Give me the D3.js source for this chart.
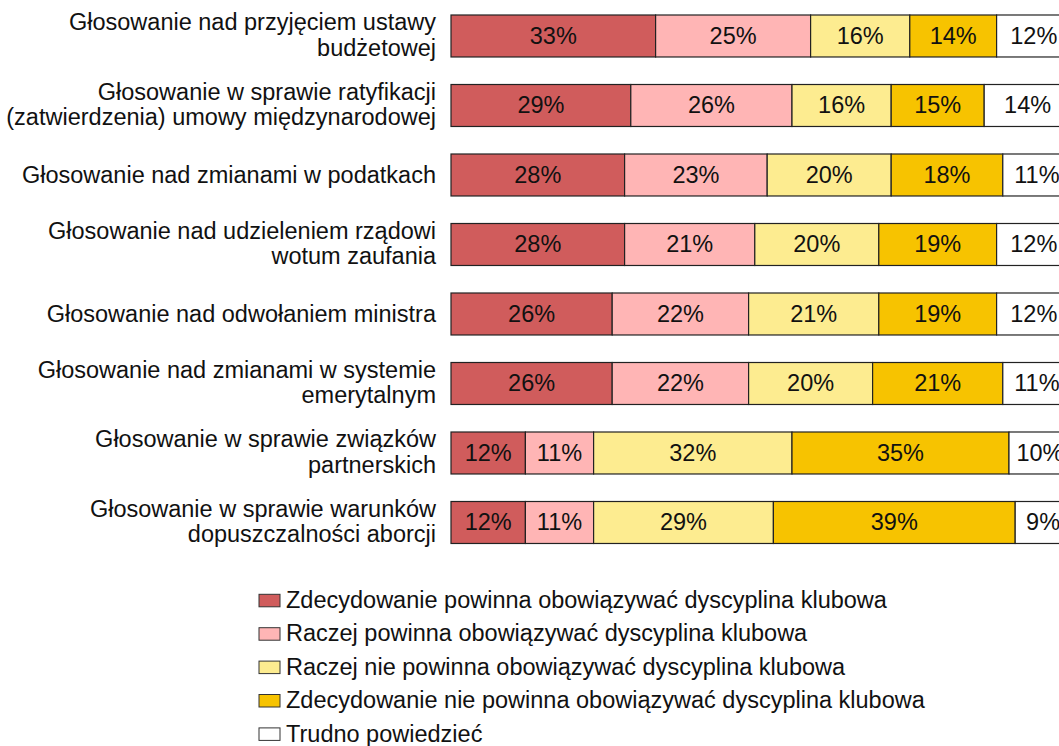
<!DOCTYPE html>
<html>
<head>
<meta charset="utf-8">
<script src="https://cdn.jsdelivr.net/npm/d3@7"></script>
<style>
  body { margin: 0; background: #fff; }
  svg { display: block; font-family: "Liberation Sans", Arial, sans-serif; }
</style>
</head>
<body>
<svg id="chart" width="1059" height="746"></svg>
<script>
// categories (label lines)
const categories = [
  ["Głosowanie nad przyjęciem ustawy", "budżetowej"],
  ["Głosowanie w sprawie ratyfikacji", "(zatwierdzenia) umowy międzynarodowej"],
  ["Głosowanie nad zmianami w podatkach"],
  ["Głosowanie nad udzieleniem rządowi", "wotum zaufania"],
  ["Głosowanie nad odwołaniem ministra"],
  ["Głosowanie nad zmianami w systemie", "emerytalnym"],
  ["Głosowanie w sprawie związków", "partnerskich"],
  ["Głosowanie w sprawie warunków", "dopuszczalności aborcji"]
];

const seriesNames = [
  "Zdecydowanie powinna obowiązywać dyscyplina klubowa",
  "Raczej powinna obowiązywać dyscyplina klubowa",
  "Raczej nie powinna obowiązywać dyscyplina klubowa",
  "Zdecydowanie nie powinna obowiązywać dyscyplina klubowa",
  "Trudno powiedzieć"
];

const definitelyYes = [33, 29, 28, 28, 26, 26, 12, 12];
const ratherYes     = [25, 26, 23, 21, 22, 22, 11, 11];
const ratherNo      = [16, 16, 20, 20, 21, 20, 32, 29];
const definitelyNo  = [14, 15, 18, 19, 19, 21, 35, 39];
const hardToSay     = [12, 14, 11, 12, 12, 11, 10, 9];

const colors = ["#d05c5c", "#ffb5b5", "#fdec90", "#f7c300", "#ffffff"];

const seriesValues = [definitelyYes, ratherYes, ratherNo, definitelyNo, hardToSay];
const keys = seriesNames.map((d, i) => "s" + i);
const table = categories.map((c, r) => {
  const row = { id: r };
  keys.forEach((k, i) => { row[k] = seriesValues[i][r]; });
  return row;
});

const fontSize = 23.5;
const svg = d3.select("#chart");

const x = d3.scaleLinear().domain([0, 100]).range([451, 1071]);
const y = d3.scaleBand()
  .domain(d3.range(categories.length))
  .range([1.24, 557.24])
  .paddingInner(0.396)
  .paddingOuter(0.198);

const color = d3.scaleOrdinal().domain(keys).range(colors);

const stacked = d3.stack().keys(keys)(table);

const layers = svg.append("g")
  .selectAll("g")
  .data(stacked)
  .enter().append("g")
  .attr("fill", d => color(d.key));

layers.selectAll("rect")
  .data(d => d)
  .enter().append("rect")
  .attr("x", d => x(d[0]))
  .attr("y", d => y(d.data.id))
  .attr("width", d => x(d[1]) - x(d[0]))
  .attr("height", y.bandwidth())
  .attr("stroke", "#222")
  .attr("stroke-width", 1.2);

layers.selectAll("text")
  .data(d => d)
  .enter().append("text")
  .attr("x", d => (x(d[0]) + x(d[1])) / 2)
  .attr("y", d => y(d.data.id) + y.bandwidth() / 2 + 8)
  .attr("text-anchor", "middle")
  .attr("font-size", fontSize)
  .attr("fill", "#111")
  .text(d => (d[1] - d[0]) + "%");

// category labels
const labels = svg.append("g")
  .selectAll("text")
  .data(categories)
  .enter().append("text")
  .attr("text-anchor", "end")
  .attr("font-size", fontSize)
  .attr("fill", "#111");

labels.each(function(lines, i) {
  const c = y(i) + y.bandwidth() / 2;
  const t = d3.select(this);
  const first = lines.length === 1 ? c + 8 : c - 5.5;
  lines.forEach((line, j) => {
    t.append("tspan")
      .attr("x", 436)
      .attr("y", first + j * 25.5)
      .text(line);
  });
});

// legend
const legend = svg.append("g")
  .selectAll("g")
  .data(seriesNames)
  .enter().append("g")
  .attr("transform", (d, i) => "translate(259," + (594.3 + i * 33.4) + ")");

legend.append("rect")
  .attr("width", 21)
  .attr("height", 12.5)
  .attr("fill", (d, i) => colors[i])
  .attr("stroke", "#333")
  .attr("stroke-width", 1);

legend.append("text")
  .attr("x", 27)
  .attr("y", 13.6)
  .attr("font-size", fontSize)
  .attr("fill", "#111")
  .text(d => d);
</script>
</body>
</html>
